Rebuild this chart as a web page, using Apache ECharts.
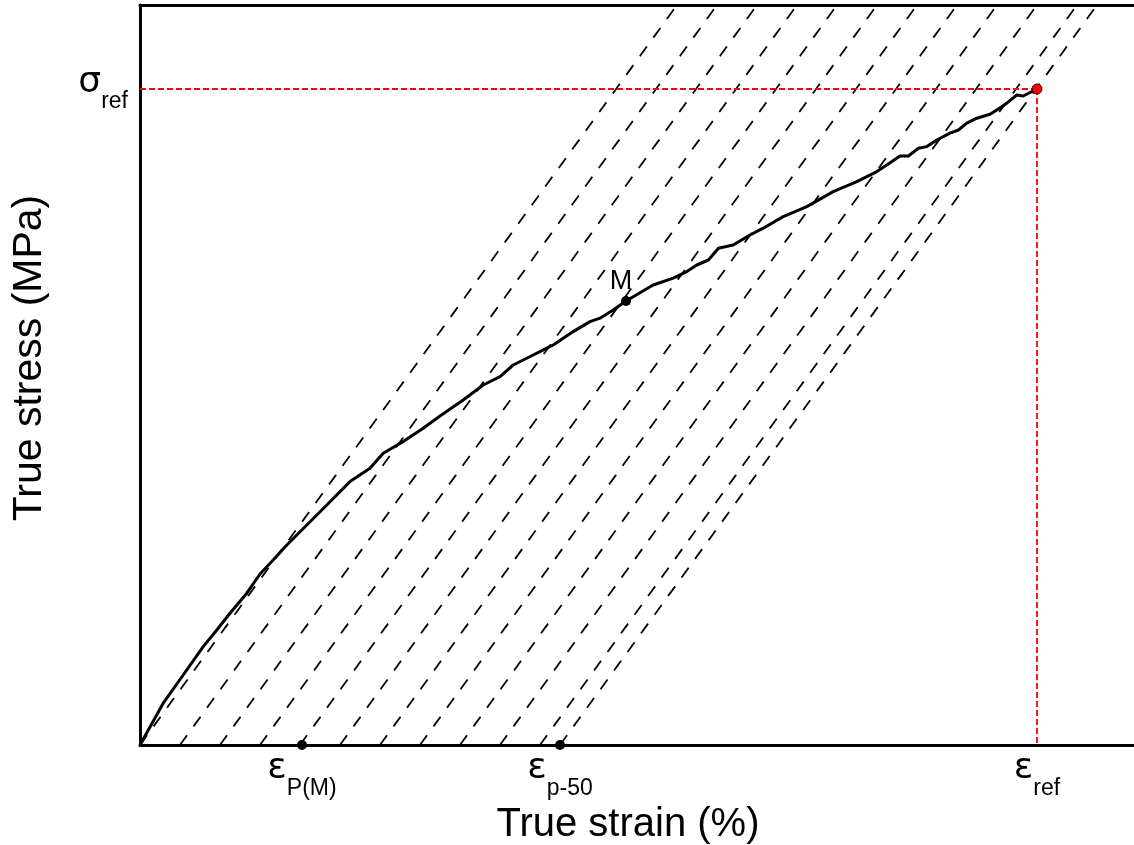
<!DOCTYPE html>
<html>
<head>
<meta charset="utf-8">
<script src="https://cdn.jsdelivr.net/npm/echarts@6/dist/echarts.min.js"></script>
<style>
  html, body { margin: 0; padding: 0; background: #fff; }
  #chart { width: 1134px; height: 845px; }
</style>
</head>
<body>
<div id="chart"></div>
<script>
// Measured true stress-strain curve (strain in %, stress in MPa)
const strain = [0, 0.058, 0.108, 0.158, 0.192, 0.225, 0.267, 0.300, 0.333, 0.367, 0.417, 0.467,
  0.525, 0.575, 0.608, 0.658, 0.708, 0.750, 0.808, 0.858, 0.900, 0.933, 0.983, 1.017, 1.033,
  1.083, 1.125, 1.150, 1.183, 1.215, 1.283, 1.333, 1.367, 1.392, 1.421, 1.446, 1.483, 1.525,
  1.558, 1.608, 1.667, 1.733, 1.792, 1.842, 1.867, 1.900, 1.921, 1.946, 1.967, 1.992, 2.025,
  2.046, 2.067, 2.092, 2.125, 2.142, 2.167, 2.192, 2.208, 2.2425];
const stress = [0, 20.9, 35.0, 49.2, 57.5, 65.9, 75.9, 85.5, 92.5, 100.0, 110.0, 120.0,
  131.7, 138.4, 145.9, 151.7, 158.4, 164.5, 172.5, 180.0, 184.2, 190.0, 195.0, 198.4, 200.0,
  206.7, 211.7, 213.4, 217.5, 222.0, 230.0, 233.4, 236.7, 240.0, 242.5, 248.4, 250.0, 255.0,
  258.4, 264.2, 269.2, 276.7, 281.7, 286.7, 290.0, 294.5, 294.5, 298.4, 299.2, 302.5, 305.9,
  307.5, 310.9, 313.4, 315.4, 317.5, 320.9, 325.0, 324.5, 328.0];

// Elastic modulus used for the unloading lines (MPa per % strain)
const modulus = 275.6;
// Plastic strains where the elastic unloading lines meet the strain axis
const unloadStrains = [0, 0.1, 0.2, 0.3, 0.4, 0.5, 0.6, 0.7, 0.8, 0.9, 1.0, 1.05];

// Marked points
const pointM = [1.215, 222.0];
const refStrain = 2.2425;
const refStress = 328.0;
const epsPM = 0.405;
const epsP50 = 1.05;

// Axis tick labels
const xTickValues = [epsPM, epsP50, refStrain];
const xTickLabels = ['{g|ε}{s|P(M)}', '{g|ε}{s|p-50}', '{g|ε}{s|ref}'];
const yTickValues = [refStress];
const yTickLabels = ['{g|σ}{s|ref}'];

const xMax = 2.485;
const yMax = 370;
const FONT = "'Liberation Sans', Arial, sans-serif";
const GREEK_FONT = "'DejaVu Sans', 'Liberation Sans', sans-serif";

const richText = {
  g: { fontSize: 36, fontFamily: GREEK_FONT, color: '#000', padding: [0, 0, 13, 0], verticalAlign: 'bottom' },
  s: { fontSize: 23, fontFamily: FONT, color: '#000', verticalAlign: 'bottom' }
};

function pickLabel(values, labels, v) {
  let best = 0;
  for (let i = 1; i < values.length; i++) {
    if (Math.abs(values[i] - v) < Math.abs(values[best] - v)) best = i;
  }
  return labels[best];
}

const series = [];

// Elastic unloading lines
unloadStrains.forEach(function (e0) {
  series.push({
    type: 'line',
    xAxisIndex: 0,
    data: [[e0, 0], [e0 + yMax / modulus, yMax]],
    symbol: 'none',
    silent: true,
    lineStyle: { color: '#000', width: 1.8, type: [12, 11] },
    z: 2
  });
});

// Reference stress / strain guides
series.push({
  type: 'line',
  data: [[0, refStress], [refStrain, refStress]],
  symbol: 'none',
  lineStyle: { color: '#ff0000', width: 1.8, type: [6, 3] },
  z: 3
});
series.push({
  type: 'line',
  data: [[refStrain, refStress], [refStrain, 0]],
  symbol: 'none',
  lineStyle: { color: '#ff0000', width: 1.8, type: [6, 3] },
  z: 3
});

// Stress-strain curve
series.push({
  type: 'line',
  data: strain.map(function (x, i) { return [x, stress[i]]; }),
  symbol: 'none',
  lineStyle: { color: '#000', width: 3 },
  z: 4
});

// Point M
series.push({
  type: 'scatter',
  data: [pointM],
  symbolSize: 10,
  itemStyle: { color: '#000', opacity: 1 },
  label: {
    show: true,
    formatter: 'M',
    position: 'top',
    offset: [-5, 4],
    fontSize: 27,
    fontFamily: FONT,
    color: '#000'
  },
  z: 5
});

// Plastic strain markers on the strain axis
series.push({
  type: 'scatter',
  data: [[epsPM, 0], [epsP50, 0]],
  symbolSize: 10,
  itemStyle: { color: '#000', opacity: 1 },
  clip: false,
  z: 5
});

// Reference point
series.push({
  type: 'scatter',
  data: [[refStrain, refStress]],
  symbolSize: 10,
  itemStyle: { color: '#ff0000', borderColor: '#400000', borderWidth: 1, opacity: 1 },
  z: 6
});

const chart = echarts.init(document.getElementById('chart'), null, { renderer: 'canvas' });
chart.setOption({
  animation: false,
  backgroundColor: '#fff',
  grid: { left: 140, right: 0, top: 5, bottom: 100, containLabel: false, outerBoundsMode: 'none' },
  xAxis: [
    {
      type: 'value',
      position: 'bottom',
      min: 0,
      max: xMax,
      name: 'True strain (%)',
      nameLocation: 'middle',
      nameGap: 57,
      nameTextStyle: { fontSize: 40, fontFamily: FONT, color: '#000', padding: [0, 18, 0, 0] },
      axisLine: { show: true, onZero: false, lineStyle: { color: '#000', width: 3 } },
      axisTick: { show: false },
      splitLine: { show: false },
      axisLabel: {
        show: true,
        customValues: xTickValues,
        margin: 6,
        formatter: function (v) { return pickLabel(xTickValues, xTickLabels, v); },
        rich: richText
      }
    },
    {
      type: 'value',
      position: 'top',
      min: 0,
      max: xMax,
      axisLine: { show: true, onZero: false, lineStyle: { color: '#000', width: 3 } },
      axisTick: { show: false },
      axisLabel: { show: false },
      splitLine: { show: false }
    }
  ],
  yAxis: {
    type: 'value',
    min: 0,
    max: yMax,
    name: 'True stress (MPa)',
    nameLocation: 'middle',
    nameGap: 90,
    nameTextStyle: { fontSize: 41, fontFamily: FONT, color: '#000', padding: [0, 0, 0, 34] },
    axisLine: { show: true, onZero: false, lineStyle: { color: '#000', width: 3 } },
    axisTick: { show: false },
    splitLine: { show: false },
    axisLabel: {
      show: true,
      customValues: yTickValues,
      margin: 12,
      formatter: function (v) { return pickLabel(yTickValues, yTickLabels, v); },
      rich: richText
    }
  },
  series: series
});
</script>
</body>
</html>
